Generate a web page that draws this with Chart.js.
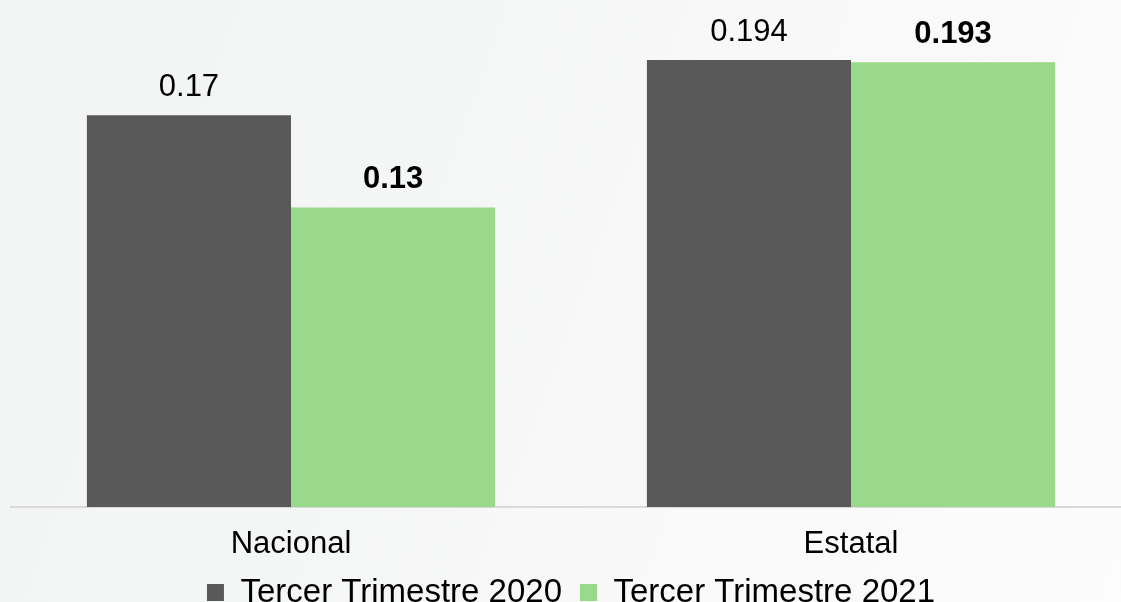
<!DOCTYPE html>
<html>
<head>
<meta charset="utf-8">
<script src="https://cdn.jsdelivr.net/npm/chart.js@4"></script>
<style>
	html, body {
		margin: 0;
		padding: 0;
		overflow: hidden;
		width: 1121px;
		height: 602px;
		background: linear-gradient(110deg, #f2f3f3 0%, #f5f6f6 40%, #f9f9f9 65%, #fcfcfc 100%);
	}
	.chart-box {
		position: absolute;
		left: 0;
		top: 0;
		width: 1160px;
		height: 619px;
	}
</style>
</head>
<body>
<div class="chart-box">
	<canvas id="myChart"></canvas>
</div>
<script>
const categories = ['Nacional', 'Estatal'];
const seriesNames = ['Tercer Trimestre 2020', 'Tercer Trimestre 2021'];
const values2020 = [0.17, 0.194];
const values2021 = [0.13, 0.193];

const FONT = "'Liberation Sans', Arial, sans-serif";

// value labels above the bars (2021 in bold)
const valueLabels = {
	id: 'valueLabels',
	afterDatasetsDraw(chart) {
		const ctx = chart.ctx;
		ctx.save();
		ctx.fillStyle = '#000';
		ctx.textAlign = 'center';
		ctx.textBaseline = 'alphabetic';
		chart.data.datasets.forEach((ds, i) => {
			const meta = chart.getDatasetMeta(i);
			ctx.font = (i === 1 ? 'bold ' : '') + '31px ' + FONT;
			meta.data.forEach((bar, j) => {
				ctx.fillText(String(ds.data[j]), bar.x, bar.y - 19);
			});
		});
		ctx.restore();
	},
};

var ctx = document.getElementById('myChart').getContext('2d');

var myBarChart = new Chart(ctx, {
	type: 'bar',
	data: {
		labels: categories,
		datasets: [
			{
				label: seriesNames[0],
				backgroundColor: '#595959',
				data: values2020,
			},
			{
				label: seriesNames[1],
				backgroundColor: '#9ad88a',
				data: values2021,
			},
		],
	},
	options: {
		responsive: true,
		maintainAspectRatio: false,
		devicePixelRatio: 1,
		animation: false,
		datasets: {
			bar: {
				categoryPercentage: 0.729,
				barPercentage: 1,
			},
		},
		layout: {
			padding: { left: 11, right: 29, top: 0, bottom: 0 },
		},
		plugins: {
			tooltip: { enabled: false },
			legend: {
				position: 'bottom',
				labels: {
					boxWidth: 17,
					boxHeight: 17,
					padding: 18,
					color: '#000',
					font: { family: FONT, size: 33 },
				},
			},
		},
		scales: {
			x: {
				border: {
					display: true,
					color: '#d9d9d9',
					width: 2,
				},
				grid: {
					display: false,
					drawTicks: false,
				},
				ticks: {
					padding: 22,
					color: '#000',
					font: { family: FONT, size: 31, lineHeight: 1 },
				},
				afterFit: function (scale) {
					scale.height = 51;
				},
			},
			y: {
				display: false,
				min: 0,
				max: 0.22,
			},
		},
	},
	plugins: [valueLabels],
});
</script>
</body>
</html>
